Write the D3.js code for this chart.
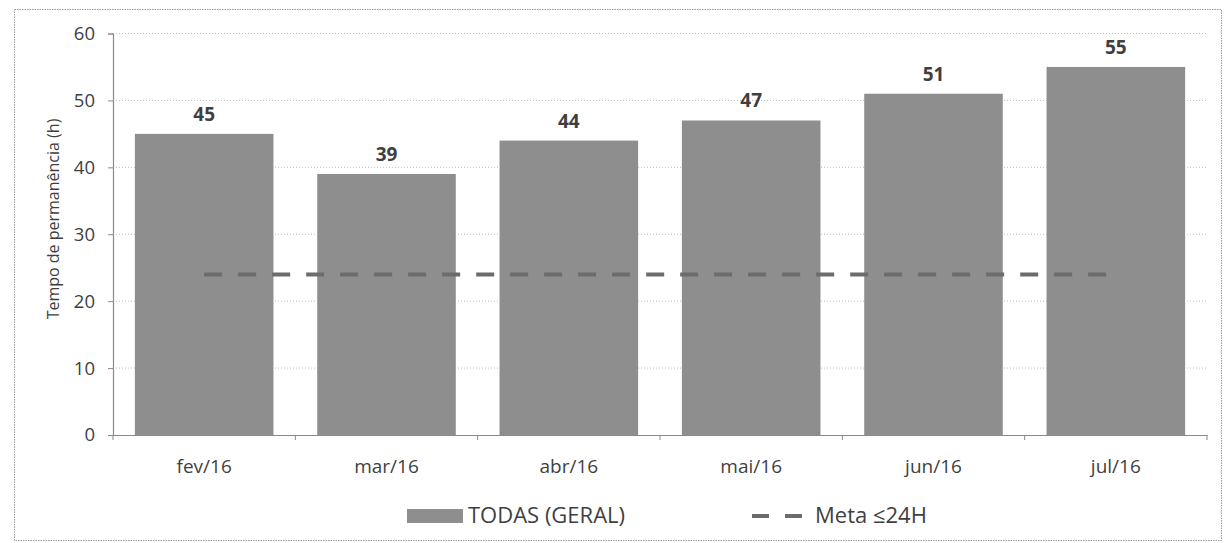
<!DOCTYPE html>
<html>
<head>
<meta charset="utf-8">
<script src="https://cdn.jsdelivr.net/npm/d3@7"></script>
<style>
  body { margin: 0; background: #fff; }
  text { font-family: "Open Sans", "Noto Sans", sans-serif; }
</style>
</head>
<body>
<svg id="chart" width="1225" height="543"></svg>
<script>
// Tempo de permanência mensal (h)
const categories = ["fev/16", "mar/16", "abr/16", "mai/16", "jun/16", "jul/16"];
const todasGeral = [45, 39, 44, 47, 51, 55];
const metaValues = [24, 24, 24, 24, 24, 24];
const yTicks = [0, 10, 20, 30, 40, 50, 60];
const seriesBar = "TODAS (GERAL)";
const seriesMeta = "Meta \u226424H";
const yTitle = "Tempo de permanência (h)";

const svg = d3.select("#chart");
const plot = { left: 113, right: 1207, top: 33.5, bottom: 435 };
const textColor = "#3f3f3f";
const barColor = "#8e8e8e";
const metaColor = "#6c6c6c";
const axisColor = "#8a8a8a";

// outer frame
svg.append("rect")
  .attr("x", 14.5).attr("y", 9.5)
  .attr("width", 1207).attr("height", 531)
  .attr("fill", "none")
  .attr("stroke", "#9a9a9a")
  .attr("stroke-width", 1)
  .attr("stroke-dasharray", "1.5 1");

const x = d3.scaleBand()
  .domain(categories)
  .range([plot.left, plot.right])
  .paddingInner(0.24)
  .paddingOuter(0.12);

const y = d3.scaleLinear()
  .domain([0, 60])
  .range([plot.bottom, plot.top]);

// horizontal gridlines
svg.append("g")
  .selectAll("line")
  .data(yTicks.filter(d => d > 0))
  .join("line")
  .attr("x1", plot.left).attr("x2", plot.right)
  .attr("y1", d => y(d)).attr("y2", d => y(d))
  .attr("stroke", "#bdbdbd")
  .attr("stroke-width", 1)
  .attr("stroke-dasharray", "1 2");

const barData = categories.map((c, i) => ({ c, v: todasGeral[i] }));

// bars
svg.append("g")
  .selectAll("rect")
  .data(barData)
  .join("rect")
  .attr("x", d => x(d.c))
  .attr("y", d => y(d.v))
  .attr("width", x.bandwidth())
  .attr("height", d => y(0) - y(d.v))
  .attr("fill", barColor);

// value labels
svg.append("g")
  .selectAll("text")
  .data(barData)
  .join("text")
  .attr("x", d => x(d.c) + x.bandwidth() / 2)
  .attr("y", d => y(d.v) - 13)
  .attr("text-anchor", "middle")
  .attr("font-size", 19)
  .attr("font-weight", "bold")
  .attr("fill", textColor)
  .text(d => d.v);

// target line
const metaLine = d3.line()
  .x((d, i) => x(categories[i]) + x.bandwidth() / 2)
  .y(d => y(d));
svg.append("path")
  .datum(metaValues)
  .attr("d", metaLine)
  .attr("fill", "none")
  .attr("stroke", metaColor)
  .attr("stroke-width", 4)
  .attr("stroke-dasharray", "18 16");

// y axis
const yAxis = d3.axisLeft(y)
  .tickValues(yTicks)
  .tickSize(5)
  .tickPadding(13);
const gy = svg.append("g")
  .attr("transform", `translate(${plot.left},0)`)
  .call(yAxis);
gy.select(".domain").attr("stroke", axisColor).attr("stroke-width", 1.2);
gy.selectAll(".tick line").attr("stroke", axisColor);
gy.selectAll(".tick text")
  .attr("font-size", 18.5)
  .attr("fill", textColor)
  .style("font-family", "'Open Sans', sans-serif");

// x axis
const xAxis = d3.axisBottom(x).tickSize(0);
const gx = svg.append("g")
  .attr("transform", `translate(0,${plot.bottom})`)
  .call(xAxis);
gx.select(".domain").attr("stroke", axisColor).attr("stroke-width", 1.2);
gx.selectAll(".tick text")
  .attr("dy", null)
  .attr("y", 38)
  .attr("font-size", 19)
  .attr("fill", textColor)
  .style("font-family", "'Open Sans', sans-serif");

// category boundary ticks
gx.append("g")
  .selectAll("line")
  .data(d3.range(categories.length + 1))
  .join("line")
  .attr("x1", i => plot.left + i * x.step())
  .attr("x2", i => plot.left + i * x.step())
  .attr("y1", 0).attr("y2", 5)
  .attr("stroke", axisColor);

// y axis title
svg.append("text")
  .attr("transform", "translate(59,219) rotate(-90)")
  .attr("text-anchor", "middle")
  .attr("font-size", 16)
  .attr("fill", textColor)
  .text(yTitle);

// legend
const legend = svg.append("g");
legend.append("rect")
  .attr("x", 407).attr("y", 509)
  .attr("width", 56).attr("height", 14)
  .attr("fill", barColor);
legend.append("text")
  .attr("x", 468).attr("y", 523)
  .attr("font-size", 22)
  .attr("fill", textColor)
  .text(seriesBar);
legend.append("line")
  .attr("x1", 752).attr("x2", 805)
  .attr("y1", 516).attr("y2", 516)
  .attr("stroke", metaColor)
  .attr("stroke-width", 4)
  .attr("stroke-dasharray", "17 16");
legend.append("text")
  .attr("x", 815).attr("y", 523)
  .attr("font-size", 22)
  .attr("fill", textColor)
  .text(seriesMeta);
</script>
</body>
</html>
